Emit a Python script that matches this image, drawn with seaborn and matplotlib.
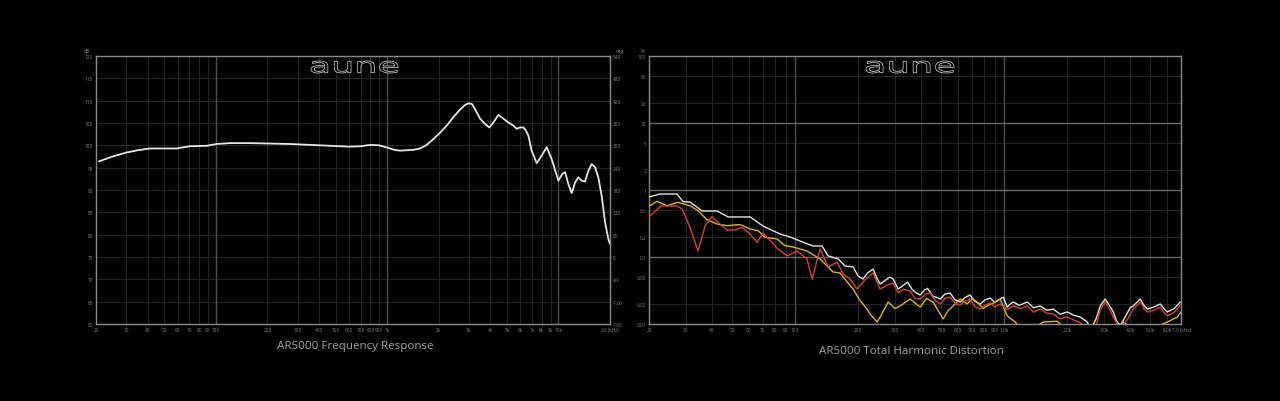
import numpy as np
import pandas as pd
import matplotlib
matplotlib.use('Agg')
import matplotlib.pyplot as plt
import seaborn as sns
from matplotlib.textpath import TextPath
from matplotlib.patches import PathPatch
from matplotlib.font_manager import FontProperties
from matplotlib.transforms import Affine2D

sns.set_theme(style='dark', rc={'figure.facecolor': 'black', 'axes.facecolor': 'black',
                                'savefig.facecolor': 'black'})
plt.rcParams['font.family'] = ['Noto Sans', 'DejaVu Sans']

#%% data: frequency response (Hz, dB)

fr_freq = [20.8, 25, 30.2, 35, 41.3, 50, 59.2, 70.7, 88.6, 101, 121, 158, 271, 464, 600,
           700, 800, 900, 1000, 1100, 1190, 1301, 1423, 1557, 1703, 1862, 2036, 2227, 2435,
           2663, 2848, 2979, 3116, 3259, 3486, 3729, 3952, 4170, 4461, 4771, 5103, 5458,
           5707, 5968, 6242, 6469, 6675, 6981, 7467, 7986, 8541, 9136, 9990, 10543, 10929,
           11430, 11955, 12502, 13073, 13672, 14297, 14953, 15636, 16350, 17100, 17880,
           18700, 19560, 20000]
fr_db = [96.4, 97.5, 98.4, 98.9, 99.3, 99.3, 99.3, 99.8, 99.9, 100.3, 100.5, 100.5, 100.3,
         99.9, 99.7, 99.8, 100.1, 100.0, 99.5, 99.0, 98.8, 98.9, 99.0, 99.3, 100.1, 101.4,
         102.8, 104.4, 106.3, 108.0, 109.0, 109.4, 109.3, 108.1, 106.0, 104.8, 104.0, 105.1,
         106.8, 106.0, 105.1, 104.4, 103.7, 104.0, 104.0, 103.3, 102.2, 98.8, 96.0, 97.7,
         99.6, 96.9, 92.1, 93.6, 94.0, 91.3, 89.3, 91.7, 92.8, 92.1, 91.9, 94.3, 95.8, 95.1,
         92.8, 88.7, 82.8, 79.0, 77.9]

#%% data: THD (Hz, %), three measurements

thd_white_freq = [20, 22.6, 27.2, 29.1, 31.4, 35.9, 42.3, 47.8, 60.9, 70.2, 84.7, 94.6, 105.6,
                  121.8, 134.5, 143.7, 160.5, 173.3, 189.3, 200, 211, 222, 236, 246, 255, 270,
                  283, 294, 311, 330, 345, 362, 380, 396, 415, 430, 455, 475, 494, 520, 551,
                  580, 616, 650, 687, 720, 767, 810, 856, 900, 956, 990, 1033, 1070, 1103,
                  1180, 1287, 1380, 1485, 1600, 1714, 1850, 2000, 2150, 2308, 2493, 2600,
                  2750, 2877, 3039, 3180, 3321, 3450, 3586, 3800, 4000, 4139, 4300, 4472,
                  4650, 4829, 5200, 5572, 5800, 6018, 6500, 6946]
thd_white = [0.787, 0.871, 0.871, 0.67, 0.662, 0.486, 0.486, 0.396, 0.396, 0.290, 0.220, 0.199,
             0.173, 0.146, 0.146, 0.104, 0.0933, 0.0734, 0.0709, 0.052, 0.047, 0.058, 0.066,
             0.048, 0.0395, 0.045, 0.05, 0.047, 0.0333, 0.038, 0.042, 0.033, 0.029, 0.0271,
             0.032, 0.034, 0.026, 0.025, 0.0236, 0.028, 0.029, 0.023, 0.0213, 0.025, 0.0271,
             0.022, 0.0199, 0.023, 0.0244, 0.021, 0.0236, 0.025, 0.0179, 0.02, 0.0213, 0.019,
             0.0213, 0.0175, 0.0186, 0.016, 0.0167, 0.014, 0.0151, 0.0135, 0.0127, 0.0107,
             0.0084, 0.012, 0.0186, 0.0236, 0.019, 0.0151, 0.011, 0.0095, 0.013, 0.0175,
             0.0186, 0.021, 0.0236, 0.019, 0.0167, 0.018, 0.0199, 0.017, 0.0151, 0.017, 0.0213]

thd_yellow_freq = [20.2, 21.8, 24.4, 27.5, 31.4, 34.3, 37.9, 42.3, 47.2, 54.5, 60.9, 66.5,
                   71.8, 81.9, 89.5, 97.7, 114, 131.6, 142.1, 151.9, 164, 177.2, 189.3, 205,
                   220.8, 228.2, 246.5, 254.9, 278.3, 300, 317.8, 354.6, 396, 425, 456.7, 494,
                   510, 540, 569.6, 615.6, 664.6, 700, 742, 790, 828.6, 900, 956, 1033, 1128,
                   1250, 1535, 1792, 2068, 3212, 3707, 4472, 6018, 6720, 7000]
thd_yellow = [0.583, 0.678, 0.583, 0.655, 0.583, 0.491, 0.360, 0.311, 0.293, 0.305, 0.262, 0.247,
              0.197, 0.186, 0.1475, 0.141, 0.123, 0.0933, 0.0734, 0.0597, 0.0577, 0.0424, 0.0333,
              0.022, 0.0167, 0.0141, 0.0107, 0.0127, 0.0213, 0.017, 0.0186, 0.0236, 0.0179,
              0.024, 0.0213, 0.0141, 0.0119, 0.016, 0.0186, 0.0236, 0.0199, 0.024, 0.0213,
              0.017, 0.0186, 0.021, 0.0236, 0.0132, 0.0107, 0.007, 0.0107, 0.011, 0.007, 0.007,
              0.0107, 0.007, 0.0107, 0.0127, 0.0151]

thd_red_freq = [20, 22.9, 27.2, 28.8, 31.4, 34.3, 37.1, 40.0, 42.7, 47.2, 51.6, 55.7, 60.9,
                65.7, 70.2, 77.5, 81.9, 91.5, 102.1, 114, 120.5, 131.6, 143.7, 158.7, 169.5,
                183.1, 197.8, 215, 235.9, 254.9, 275, 294.1, 310.8, 330, 354.6, 375, 396, 420,
                442, 470, 494, 520, 551, 585, 616, 650, 687, 725, 767, 810, 856, 900, 956,
                1033, 1103, 1200, 1287, 1380, 1485, 1600, 1714, 1850, 2000, 2150, 2308, 2493,
                2700, 2877, 3039, 3180, 3321, 3586, 3900, 4139, 4472, 4650, 4829, 5200, 5572,
                5800, 6018, 6500, 6946]
thd_red = [0.396, 0.577, 0.577, 0.52, 0.28, 0.123, 0.293, 0.399, 0.33, 0.253, 0.253, 0.277,
           0.220, 0.166, 0.226, 0.166, 0.135, 0.104, 0.123, 0.0933, 0.047, 0.1316, 0.0709,
           0.0842, 0.0558, 0.047, 0.0333, 0.045, 0.0577, 0.0333, 0.038, 0.0409, 0.029, 0.033,
           0.0311, 0.024, 0.0236, 0.028, 0.029, 0.022, 0.0199, 0.024, 0.0253, 0.02, 0.0192,
           0.022, 0.0236, 0.018, 0.0167, 0.019, 0.0206, 0.018, 0.0199, 0.0165, 0.0186, 0.017,
           0.0186, 0.015, 0.0167, 0.0145, 0.0141, 0.012, 0.0127, 0.0115, 0.0104, 0.0084,
           0.0075, 0.0162, 0.0213, 0.017, 0.0127, 0.0084, 0.012, 0.0167, 0.0213, 0.017,
           0.0151, 0.016, 0.0179, 0.015, 0.0132, 0.015, 0.0192]

#%% tick labels

fr_xticks = [20, 30, 40, 50, 60, 70, 80, 90, 100, 200, 300, 400, 500, 600, 700, 800, 900,
             1000, 2000, 3000, 4000, 5000, 6000, 7000, 8000, 9000, 10000, 20000]
fr_xlabels = ['20', '30', '40', '50', '60', '70', '80', '90', '100', '200', '300', '400', '500',
              '600', '700', '800', '900', '1k', '2k', '3k', '4k', '5k', '6k', '7k', '8k', '9k',
              '10k', '20 (kHz)']
fr_yticks = list(range(60, 121, 5))
deg_ticks = list(range(-180, 541, 60))

thd_xticks = [20, 30, 40, 50, 60, 70, 80, 90, 100, 200, 300, 400, 500, 600, 700, 800, 900,
              1000, 2000, 3000, 4000, 5000, 6000, 7000]
thd_xlabels = ['20', '30', '40', '50', '60', '70', '80', '90', '100', '200', '300', '400', '500',
               '600', '700', '800', '900', '1.0k', '2.0k', '3.0k', '4.0k', '5.0k', '6.0k',
               '7.0 (kHz)']
thd_yticks = [0.01, 0.02, 0.05, 0.1, 0.2, 0.5, 1, 2, 5, 10, 20, 50, 100]
thd_ylabels = ['0.01', '0.02', '0.05', '0.1', '0.2', '0.5', '1', '2', '5', '10', '20', '50', '100']

#%% figure

tick_col = '#7c7c7c'
minor_col = '#232323'
major_col = '#4d4d4d'
spine_col = '#8a8a8a'
tick_fs = 3.4

fig = plt.figure(figsize=(12.8, 4.02), dpi=100)
ax1 = fig.add_axes([96/1280, 1-325/402, (610-96)/1280, (325-57)/402])
ax2 = fig.add_axes([649/1280, 1-325/402, (1181-649)/1280, (325-57)/402])


def style_axes(ax):
    ax.set_facecolor('black')
    ax.grid(True, color=minor_col, lw=0.8)
    for s in ax.spines.values():
        s.set_visible(True)
        s.set_color(spine_col)
        s.set_linewidth(1.0)
    ax.tick_params(axis='both', length=0, pad=2, labelsize=tick_fs, labelcolor=tick_col)
    ax.set_xlabel('')
    ax.set_ylabel('')


# frequency response
dffr = pd.DataFrame({'Frequency': fr_freq, 'SPL': fr_db})
sns.lineplot(data=dffr, x='Frequency', y='SPL', color='#e6e6e6', lw=1.3, ax=ax1,
             estimator=None, sort=False, zorder=5)
ax1.set_xscale('log')
ax1.set_xlim(20, 20000)
ax1.set_ylim(60, 120)
ax1.set_xticks(fr_xticks, fr_xlabels)
ax1.xaxis.set_minor_locator(matplotlib.ticker.NullLocator())
ax1.set_yticks(fr_yticks, [str(v) for v in fr_yticks])
style_axes(ax1)
for f in [100, 1000, 10000]:
    ax1.axvline(f, color=major_col, lw=1.0, zorder=1)
ax1.text(-0.012, 1.012, 'dB', transform=ax1.transAxes, fontsize=tick_fs, color=tick_col,
         ha='right', va='bottom')

axd = ax1.twinx()
axd.set_ylim(-180, 540)
axd.set_yticks(deg_ticks, [str(v) for v in deg_ticks])
axd.tick_params(axis='y', length=0, pad=2, labelsize=tick_fs, labelcolor=tick_col)
axd.grid(False)
for s in axd.spines.values():
    s.set_visible(False)
axd.text(1.012, 1.012, 'deg', transform=ax1.transAxes, fontsize=tick_fs, color=tick_col,
         ha='left', va='bottom')

# THD
dfthd = pd.concat([
    pd.DataFrame({'Frequency': thd_white_freq, 'THD': thd_white, 'Channel': 'A'}),
    pd.DataFrame({'Frequency': thd_yellow_freq, 'THD': thd_yellow, 'Channel': 'B'}),
    pd.DataFrame({'Frequency': thd_red_freq, 'THD': thd_red, 'Channel': 'C'}),
])
sns.lineplot(data=dfthd, x='Frequency', y='THD', hue='Channel',
             palette={'A': '#e4e4e4', 'B': '#d9b81c', 'C': '#d8413a'},
             lw=1.0, ax=ax2, estimator=None, sort=False, legend=False, zorder=5)
ax2.set_xscale('log')
ax2.set_yscale('log')
ax2.set_xlim(20, 7000)
ax2.set_ylim(0.01, 100)
ax2.set_xticks(thd_xticks, thd_xlabels)
ax2.set_yticks(thd_yticks, thd_ylabels)
ax2.xaxis.set_minor_locator(matplotlib.ticker.NullLocator())
ax2.yaxis.set_minor_locator(matplotlib.ticker.NullLocator())
style_axes(ax2)
for f in [100, 1000]:
    ax2.axvline(f, color=major_col, lw=1.0, zorder=1)
for v in [0.1, 1, 10]:
    ax2.axhline(v, color='#6a6a6a', lw=1.0, zorder=1)
ax2.text(-0.008, 1.012, '%', transform=ax2.transAxes, fontsize=tick_fs, color=tick_col,
         ha='right', va='bottom')

# titles
fig.text(355/1280, 1-347/402, 'AR5000 Frequency Response', color='#9a9a9a', fontsize=8.3,
         ha='center', va='center')
fig.text(911/1280, 1-352/402, 'AR5000 Total Harmonic Distortion', color='#9a9a9a', fontsize=8.3,
         ha='center', va='center')


# brand logo drawn as outlined text
def logo(cx, cy, w, h):
    tp = TextPath((0, 0), 'aune', size=10, prop=FontProperties(family='DejaVu Sans'))
    bb = tp.get_extents()
    tr = (Affine2D().translate(-bb.x0, -bb.y0).scale(w / bb.width, h / bb.height)
          .translate(cx - w / 2, 402 - cy - h / 2).scale(0.01) + fig.dpi_scale_trans)
    fig.add_artist(PathPatch(tp, transform=tr, fc='black', ec='#c8c8c8', lw=0.55, zorder=10))


logo(354.5, 68, 87, 12)
logo(910, 68, 88, 12)

fig.savefig('out.png', dpi=100, facecolor='black')
